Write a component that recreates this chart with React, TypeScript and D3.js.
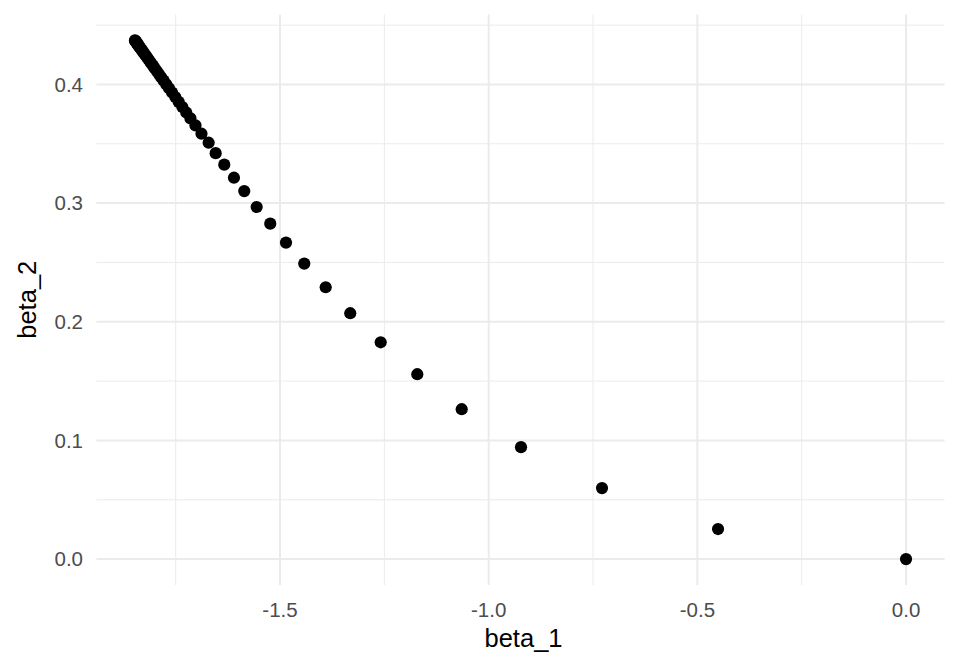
import React from "react";
import * as d3 from "d3";

const beta1: number[] = [
  0, -0.4505, -0.7285, -0.9226, -1.0647, -1.1711, -1.2588, -1.3317, -1.3906, -1.4419,
  -1.4857, -1.5234, -1.556, -1.5857, -1.6104, -1.6336, -1.6542, -1.671, -1.6882, -1.7026,
  -1.7146, -1.7247, -1.734, -1.7428, -1.751, -1.7587, -1.7659, -1.7726, -1.7789, -1.7848,
  -1.7903, -1.7954, -1.8002, -1.8046, -1.8087, -1.8125, -1.816, -1.8192, -1.8222, -1.825,
  -1.8276, -1.83, -1.8322, -1.8342, -1.8361, -1.8378, -1.8394, -1.8409, -1.8422, -1.8434,
  -1.8445, -1.8455, -1.8463, -1.847, -1.8476,
];
const beta2: number[] = [
  0, 0.0253, 0.0598, 0.0943, 0.1263, 0.1558, 0.1827, 0.2072, 0.2291, 0.249,
  0.2667, 0.2827, 0.2967, 0.3101, 0.3214, 0.3324, 0.3421, 0.3509, 0.3585, 0.3655,
  0.3714, 0.3764, 0.381, 0.3853, 0.3894, 0.3932, 0.3968, 0.4001, 0.4032, 0.4061,
  0.4088, 0.4113, 0.4137, 0.4159, 0.4179, 0.4198, 0.4215, 0.4231, 0.4246, 0.4259,
  0.4272, 0.4284, 0.4295, 0.4305, 0.4314, 0.4323, 0.4331, 0.4338, 0.4344, 0.435,
  0.4356, 0.4361, 0.4365, 0.4368, 0.4371,
];
const xTicks: number[] = [-1.5, -1.0, -0.5, 0.0];
const xMinor: number[] = [-1.75, -1.25, -0.75, -0.25];
const yTicks: number[] = [0.0, 0.1, 0.2, 0.3, 0.4];
const yMinor: number[] = [0.05, 0.15, 0.25, 0.35, 0.45];

export default function App() {
  const W = 960, H = 672;
  const left = 96.4, right = 944.6, top = 14.5, bottom = 585;
  const xr = d3.extent(beta1) as [number, number];
  const yr = d3.extent(beta2) as [number, number];
  const ex = (xr[1] - xr[0]) * 0.05;
  const ey = (yr[1] - yr[0]) * 0.05;
  const x = d3.scaleLinear().domain([xr[0] - ex, xr[1] + ex]).range([left, right]);
  const y = d3.scaleLinear().domain([yr[0] - ey, yr[1] + ey]).range([bottom, top]);
  const font = "'Liberation Sans', Arial, Helvetica, sans-serif";
  const pts = beta1.map((b, i) => ({ b1: b, b2: beta2[i] }));
  return (
    <svg width={W} height={H} style={{ position: "absolute", left: 0, top: 0, background: "#fff" }}>
      <rect width={W} height={H} fill="#fff" />
      {xMinor.map((t) => (
        <line key={"xm" + t} x1={x(t)} x2={x(t)} y1={top} y2={bottom} stroke="#ebebeb" strokeWidth={1} />
      ))}
      {yMinor.map((t) => (
        <line key={"ym" + t} x1={left} x2={right} y1={y(t)} y2={y(t)} stroke="#ebebeb" strokeWidth={1} />
      ))}
      {xTicks.map((t) => (
        <line key={"xM" + t} x1={x(t)} x2={x(t)} y1={top} y2={bottom} stroke="#ebebeb" strokeWidth={2} />
      ))}
      {yTicks.map((t) => (
        <line key={"yM" + t} x1={left} x2={right} y1={y(t)} y2={y(t)} stroke="#ebebeb" strokeWidth={2} />
      ))}
      {pts.map((p, i) => (
        <circle key={i} cx={x(p.b1)} cy={y(p.b2)} r={6.1} fill="#000" />
      ))}
      {xTicks.map((t) => (
        <text key={"xt" + t} x={x(t)} y={616.5} textAnchor="middle" fontFamily={font} fontSize={20.5} fill="#4d4d4d">
          {d3.format(".1f")(t).replace("−", "-")}
        </text>
      ))}
      {yTicks.map((t) => (
        <text key={"yt" + t} x={83} y={y(t)} dy="0.36em" textAnchor="end" fontFamily={font} fontSize={20.5} fill="#4d4d4d">
          {d3.format(".1f")(t)}
        </text>
      ))}
      <text x={(left + right) / 2 + 3} y={647} textAnchor="middle" fontFamily={font} fontSize={25.5} fill="#000">
        beta_1
      </text>
      <text
        transform={`translate(36, ${(top + bottom) / 2}) rotate(-90)`}
        textAnchor="middle"
        fontFamily={font}
        fontSize={25.5}
        fill="#000"
      >
        beta_2
      </text>
    </svg>
  );
}
